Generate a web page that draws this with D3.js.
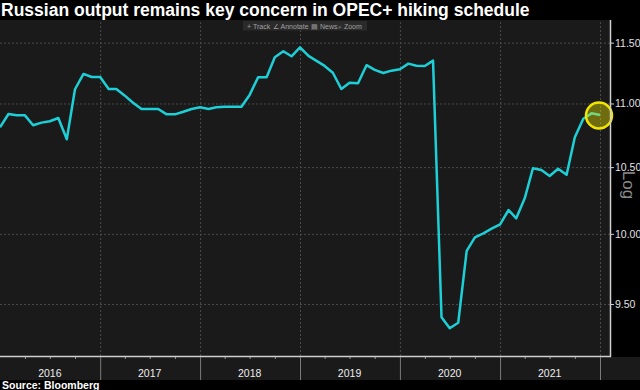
<!DOCTYPE html>
<html lang="en">
<head>
<meta charset="utf-8">
<title>Russian output remains key concern in OPEC+ hiking schedule</title>
<script src="https://d3js.org/d3.v7.min.js"></script>
<style>
  body { margin: 0; background: #000; }
  svg { display: block; }
</style>
</head>
<body>
<div id="chart"></div>
<script>
// monthly points, Jan 2016 .. Jan 2022
const months = [
  "2016-01","2016-02","2016-03","2016-04","2016-05","2016-06","2016-07","2016-08","2016-09","2016-10","2016-11","2016-12",
  "2017-01","2017-02","2017-03","2017-04","2017-05","2017-06","2017-07","2017-08","2017-09","2017-10","2017-11","2017-12",
  "2018-01","2018-02","2018-03","2018-04","2018-05","2018-06","2018-07","2018-08","2018-09","2018-10","2018-11","2018-12",
  "2019-01","2019-02","2019-03","2019-04","2019-05","2019-06","2019-07","2019-08","2019-09","2019-10","2019-11","2019-12",
  "2020-01","2020-02","2020-03","2020-04","2020-05","2020-06","2020-07","2020-08","2020-09","2020-10","2020-11","2020-12",
  "2021-01","2021-02","2021-03","2021-04","2021-05","2021-06","2021-07","2021-08","2021-09","2021-10","2021-11","2021-12",
  "2022-01"
];
// Russian crude output, million barrels a day
const output = [
  10.81, 10.916, 10.905, 10.905, 10.826, 10.847, 10.858, 10.884, 10.716, 11.115, 11.24, 11.215,
  11.215, 11.117, 11.117, 11.063, 11.006, 10.956, 10.956, 10.956, 10.913, 10.913, 10.934, 10.956,
  10.969, 10.956, 10.969, 10.974, 10.974, 10.974, 11.069, 11.213, 11.213, 11.378, 11.428, 11.386,
  11.461, 11.389, 11.35, 11.306, 11.25, 11.117, 11.168, 11.164, 11.312, 11.273, 11.248, 11.267,
  11.279, 11.325, 11.308, 11.306, 11.35, 9.408, 9.333, 9.371, 9.877, 9.975, 10.004, 10.038,
  10.07, 10.176, 10.114, 10.263, 10.491, 10.478, 10.432, 10.488, 10.442, 10.731, 10.878, 10.921,
  10.908
];
const yTicks = [9.5, 10, 10.5, 11, 11.5];
const years = ["2016", "2017", "2018", "2019", "2020", "2021"];

const W = 640, H = 390;
const plot = { left: 0, top: 20, right: 610, bottom: 356 };
const parse = d3.timeParse("%Y-%m");
const data = months.map((m, i) => ({ date: parse(m), value: output[i] }));

const x = d3.scaleTime()
  .domain([parse("2016-01"), parse("2022-01")])
  .range([0, 600]);
const y = d3.scaleLog()
  .domain([9.146, 11.692])
  .range([plot.bottom, plot.top]);

const svg = d3.select("#chart").append("svg")
  .attr("width", W).attr("height", H);

// plot background
svg.append("rect")
  .attr("x", plot.left).attr("y", plot.top)
  .attr("width", plot.right - plot.left).attr("height", plot.bottom - plot.top)
  .attr("fill", "#1a1a1a");

// horizontal grid
svg.append("g")
  .attr("transform", `translate(${plot.right},0)`)
  .call(d3.axisLeft(y).tickValues(yTicks).tickSize(plot.right - plot.left).tickFormat(""))
  .call(g => g.select(".domain").remove())
  .selectAll("line")
  .attr("stroke", "#4b4b4b").attr("stroke-dasharray", "2,2");

// vertical grid at year starts
const yearStarts = years.slice(1).map(d => parse(d + "-01")).concat([parse("2022-01")]);
svg.append("g")
  .attr("transform", `translate(0,${plot.bottom})`)
  .call(d3.axisTop(x).tickValues(yearStarts).tickSize(plot.bottom - plot.top).tickFormat(""))
  .call(g => g.select(".domain").remove())
  .selectAll("line")
  .attr("stroke", "#4b4b4b").attr("stroke-dasharray", "2,2");

// toolbar
const tb = svg.append("g").attr("font-family", "Liberation Sans, Arial, sans-serif")
  .attr("font-size", 7).attr("fill", "#a0a0a0");
tb.append("rect").attr("x", 243).attr("y", 21).attr("width", 124).attr("height", 9.5)
  .attr("fill", "#2a2a2a");
[["+ Track", 247], ["\u2220 Annotate", 273], ["\u25A4 News", 311], ["\u2315 Zoom", 338]]
  .forEach(([t, px]) => tb.append("text").attr("x", px).attr("y", 28.5).text(t));

// line
const line = d3.line()
  .x(d => x(d.date))
  .y(d => y(d.value));
svg.append("path")
  .datum(data)
  .attr("fill", "none")
  .attr("stroke", "#1dcfd6")
  .attr("stroke-width", 2.5)
  .attr("stroke-linejoin", "round")
  .attr("d", line);

// highlight on latest point
const last = data[data.length - 1];
svg.append("circle")
  .attr("cx", x(last.date) - 1).attr("cy", y(last.value) + 0.5).attr("r", 13)
  .attr("fill", "rgba(240,230,0,0.4)")
  .attr("stroke", "#f2e600").attr("stroke-width", 2.5);

// right axis
const yAxis = svg.append("g")
  .attr("transform", `translate(${plot.right},0)`)
  .call(d3.axisRight(y).tickValues(yTicks).tickSize(4).tickPadding(1).tickFormat(d3.format(".2f")));
yAxis.select(".domain").attr("d", `M0.5,${plot.top}V${plot.bottom + 1}`).attr("stroke", "#d0d0d0").attr("stroke-width", 1.5);
yAxis.selectAll("line").attr("stroke", "#d0d0d0");
yAxis.selectAll("text")
  .attr("fill", "#e0e0e0")
  .attr("font-family", "Liberation Sans, Arial, sans-serif")
  .attr("font-size", 10.5);

svg.append("text")
  .attr("transform", "translate(623,185) rotate(90)")
  .attr("text-anchor", "middle")
  .attr("font-family", "Liberation Sans, Arial, sans-serif")
  .attr("font-size", 17)
  .attr("fill", "#8a8a8a")
  .text("Log");

// x band
svg.append("rect")
  .attr("x", 0).attr("y", plot.bottom + 1)
  .attr("width", W).attr("height", 23)
  .attr("fill", "#1a1a1a");

// bottom axis line
svg.append("line")
  .attr("x1", 0).attr("x2", plot.right + 1)
  .attr("y1", plot.bottom + 0.5).attr("y2", plot.bottom + 0.5)
  .attr("stroke", "#d0d0d0").attr("stroke-width", 1.5);

// year separators
const xSep = svg.append("g")
  .attr("transform", `translate(0,${plot.bottom + 1})`)
  .call(d3.axisBottom(x).tickValues(yearStarts).tickSize(23).tickFormat(""));
xSep.select(".domain").remove();
xSep.selectAll("line").attr("stroke", "#7a7a7a");

// quarter ticks
const quarters = d3.timeMonth.every(3).range(parse("2016-01"), parse("2022-01"))
  .filter(d => d.getMonth() !== 0);
const xq = svg.append("g")
  .attr("transform", `translate(0,${plot.bottom + 1})`)
  .call(d3.axisBottom(x).tickValues(quarters).tickSize(2).tickFormat(""));
xq.select(".domain").remove();
xq.selectAll("line").attr("stroke", "#9a9a9a");

// year labels
svg.append("g")
  .selectAll("text")
  .data(years)
  .join("text")
  .attr("x", d => x(parse(d + "-07")))
  .attr("y", 377)
  .attr("text-anchor", "middle")
  .attr("font-family", "Liberation Sans, Arial, sans-serif")
  .attr("font-size", 10.5)
  .attr("fill", "#eeeeee")
  .text(d => d);

// title and source
svg.append("text")
  .attr("x", 1).attr("y", 16)
  .attr("font-family", "Liberation Sans, Arial, sans-serif")
  .attr("font-weight", "bold")
  .attr("font-size", 17.5)
  .attr("fill", "#ffffff")
  .text("Russian output remains key concern in OPEC+ hiking schedule");

svg.append("text")
  .attr("x", 2).attr("y", 388.5)
  .attr("font-family", "Liberation Sans, Arial, sans-serif")
  .attr("font-weight", "bold")
  .attr("font-size", 10.5)
  .attr("fill", "#ffffff")
  .text("Source: Bloomberg");
</script>
</body>
</html>
